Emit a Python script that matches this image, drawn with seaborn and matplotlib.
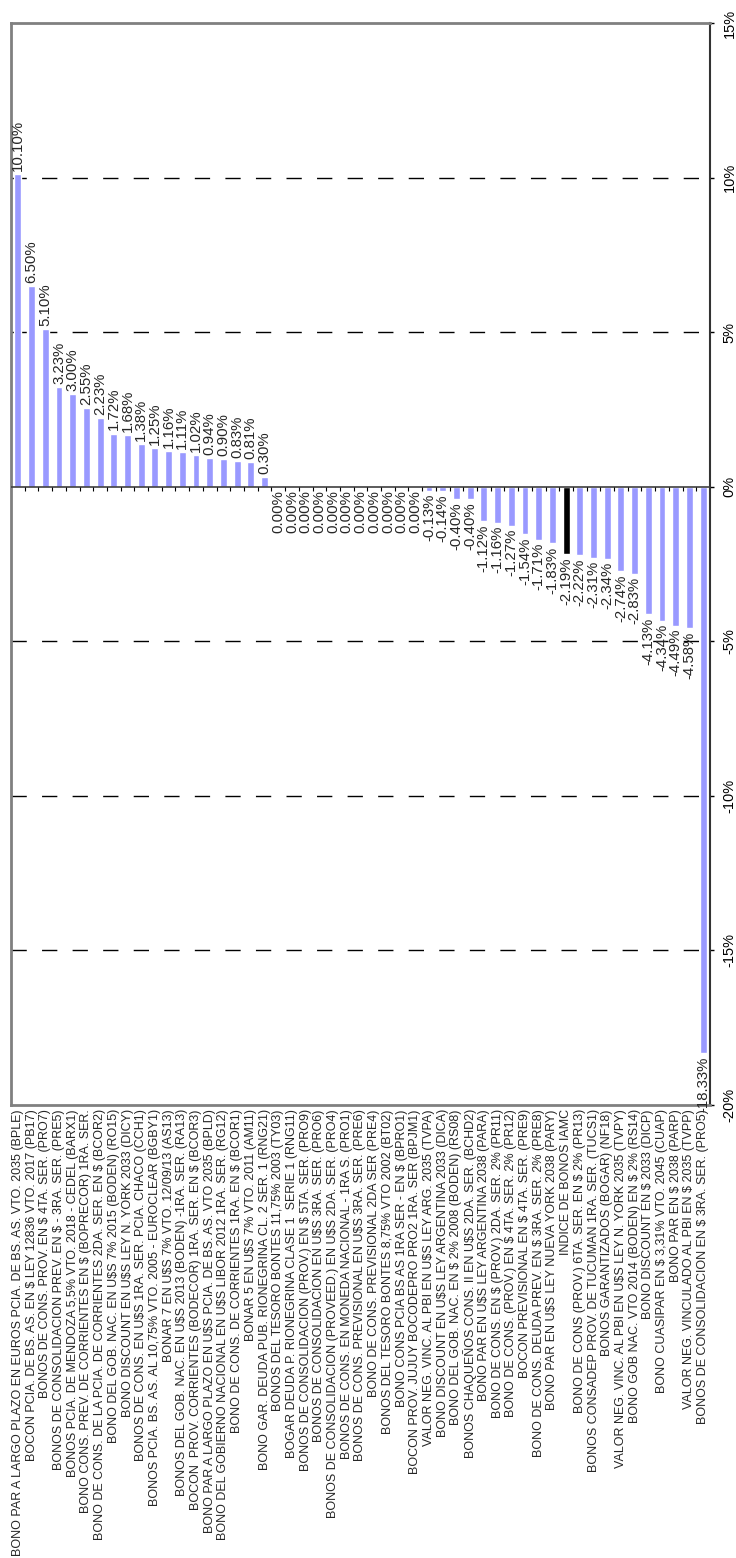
import numpy as np
import pandas as pd
import matplotlib
matplotlib.use("Agg")
import matplotlib.pyplot as plt
import seaborn as sns

# datos
bonos = [
    "BONO PAR A LARGO PLAZO EN EUROS PCIA. DE BS. AS. VTO. 2035 (BPLE)",
    "BOCON PCIA. DE BS. AS. EN $ LEY 12836 VTO. 2017 (PB17)",
    "BONOS DE CONS. PROV. EN $ 4TA. SER. (PRO7)",
    "BONOS DE CONSOLIDACION PREV. EN $ - 3RA. SER. (PRE5)",
    "BONOS PCIA. DE MENDOZA 5,5% VTO. 2018 - CEDEL (BARX1)",
    "BONO CONS. PREV. DE CORRIENTES EN $ (BOPRECOR) 1RA. SER.",
    "BONO DE CONS. DE LA PCIA. DE CORRIENTES 2DA. SER. EN $ (BCOR2)",
    "BONO DEL GOB. NAC. EN U$S 7% 2015 (BODEN) (RO15)",
    "BONO DISCOUNT EN U$S LEY N. YORK 2033 (DICY)",
    "BONOS DE CONS. EN U$S 1RA. SER. PCIA. CHACO (CCH1)",
    "BONOS PCIA. BS. AS. AL 10,75% VTO. 2005 - EUROCLEAR (BGBY1)",
    "BONAR 7 EN U$S 7% VTO. 12/09/13 (AS13)",
    "BONOS DEL GOB. NAC. EN U$S 2013 (BODEN) -1RA. SER. (RA13)",
    "BOCON  PROV. CORRIENTES (BODECOR) 1RA. SER. EN $ (BCOR3)",
    "BONO PAR A LARGO PLAZO EN U$S PCIA. DE BS. AS. VTO 2035 (BPLD)",
    "BONO DEL GOBIERNO NACIONAL EN U$S LIBOR 2012 1RA. SER. (RG12)",
    "BONO DE CONS. DE CORRIENTES 1RA. EN $ (BCOR1)",
    "BONAR 5 EN U$S 7% VTO. 2011 (AM11)",
    "BONO GAR. DEUDA PUB. RIONEGRINA CL. 2 SER. 1 (RNG21)",
    "BONOS DEL TESORO BONTES 11,75% 2003 (TY03)",
    "BOGAR DEUDA P. RIONEGRINA CLASE 1  SERIE 1 (RNG11)",
    "BONOS DE CONSOLIDACION (PROV.) EN $ 5TA. SER. (PRO9)",
    "BONOS DE CONSOLIDACION EN U$S 3RA. SER. (PRO6)",
    "BONOS DE CONSOLIDACION (PROVEED.) EN U$S 2DA. SER. (PRO4)",
    "BONOS DE CONS. EN MONEDA NACIONAL - 1RA S. (PRO1)",
    "BONOS DE CONS. PREVISIONAL EN U$S 3RA. SER. (PRE6)",
    "BONO DE CONS. PREVISIONAL 2DA SER (PRE4)",
    "BONOS DEL TESORO BONTES 8,75% VTO 2002 (BT02)",
    "BONO CONS PCIA BS AS 1RA SER - EN $ (BPRO1)",
    "BOCON PROV. JUJUY BOCODEPRO PRO2 1RA. SER (BPJM1)",
    "VALOR NEG. VINC. AL PBI EN U$S LEY ARG. 2035 (TVPA)",
    "BONO DISCOUNT EN U$S LEY ARGENTINA 2033 (DICA)",
    "BONO DEL GOB. NAC. EN $ 2% 2008 (BODEN) (RS08)",
    "BONOS CHAQUEÑOS CONS. II EN U$S 2DA. SER. (BCHD2)",
    "BONO PAR EN U$S LEY ARGENTINA 2038 (PARA)",
    "BONO DE CONS. EN $ (PROV.) 2DA. SER. 2% (PR11)",
    "BONO DE CONS. (PROV.) EN $ 4TA. SER. 2% (PR12)",
    "BOCON PREVISIONAL EN $ 4TA. SER. (PRE9)",
    "BONO DE CONS. DEUDA PREV. EN $ 3RA. SER. 2% (PRE8)",
    "BONO PAR EN U$S LEY NUEVA YORK 2038 (PARY)",
    "INDICE DE BONOS IAMC",
    "BONO DE CONS (PROV.) 6TA. SER. EN $ 2% (PR13)",
    "BONOS CONSADEP PROV. DE TUCUMAN 1RA. SER. (TUCS1)",
    "BONOS GARANTIZADOS (BOGAR) (NF18)",
    "VALOR NEG. VINC. AL PBI EN U$S LEY N. YORK 2035 (TVPY)",
    "BONO GOB NAC. VTO 2014 (BODEN) EN $ 2% (RS14)",
    "BONO DISCOUNT EN $ 2033 (DICP)",
    "BONO CUASIPAR EN $ 3,31% VTO. 2045 (CUAP)",
    "BONO PAR EN $ 2038 (PARP)",
    "VALOR NEG. VINCULADO AL PBI EN $ 2035 (TVPP)",
    "BONOS DE CONSOLIDACION EN $ 3RA. SER. (PRO5)",
]

variacion = [
    10.10, 6.50, 5.10, 3.23, 3.00, 2.55, 2.23, 1.72, 1.68, 1.38,
    1.25, 1.16, 1.11, 1.02, 0.94, 0.90, 0.83, 0.81, 0.30,
    0.00, 0.00, 0.00, 0.00, 0.00, 0.00, 0.00, 0.00, 0.00, 0.00, 0.00,
    -0.13, -0.14, -0.40, -0.40, -1.12, -1.16, -1.27, -1.54, -1.71, -1.83,
    -2.19, -2.22, -2.31, -2.34, -2.74, -2.83, -4.13, -4.34, -4.49, -4.58,
    -18.33,
]

indice = "INDICE DE BONOS IAMC"
y_ticks = [15, 10, 5, 0, -5, -10, -15, -20]
grid_vals = [10, 5, -5, -10, -15]

df = pd.DataFrame({"bono": bonos, "var": variacion})
colores = {b: ("#000000" if b == indice else "#9999FF") for b in bonos}

sns.set_style("white")
plt.rcParams["font.family"] = ["Liberation Sans", "DejaVu Sans"]

fig = plt.figure(figsize=(7.36, 15.58), dpi=100)
ax = fig.add_axes([11 / 736, 1 - 1105 / 1558, 699 / 736, 1082 / 1558])

sns.barplot(data=df, x="bono", y="var", hue="bono", palette=colores,
            legend=False, width=0.5, saturation=1, ax=ax)

ax.set_ylim(-20, 15)
ax.set_xlim(-0.5, len(bonos) - 0.5)

# lineas punteadas
for g in grid_vals:
    ax.axhline(g, color="black", lw=1, dashes=(11, 11), zorder=0)

# eje en cero con marcas entre categorias
ax.axhline(0, color="#404040", lw=1.2, zorder=3)
limites = np.arange(len(bonos) - 1) + 0.5
ax.plot(limites, np.zeros(len(limites)), linestyle="none", marker=3,
        markersize=3, color="black", markeredgewidth=0.8, zorder=3)

# etiquetas de valor
for i, v in enumerate(variacion):
    if v > 0:
        ax.text(i, v + 0.1, f"{v:.2f}%", rotation=90, ha="center", va="bottom",
                fontsize=10.8)
    else:
        ax.text(i, v - 0.1, f"{v:.2f}%", rotation=90, ha="center", va="top",
                fontsize=10.8, clip_on=False)

# ejes
ax.yaxis.tick_right()
ax.set_yticks(y_ticks)
ax.set_yticklabels([f"{t}%" for t in y_ticks], rotation=90, va="center",
                   fontsize=10.5)
ax.tick_params(axis="y", direction="out", length=3, width=1, pad=6,
               colors="black")
ax.set_xticks(range(len(bonos)))
ax.set_xticklabels(bonos, rotation=90, fontsize=9.0)
ax.tick_params(axis="x", length=0, pad=3)
ax.set_xlabel("")
ax.set_ylabel("")

for s in ["left", "top", "bottom"]:
    ax.spines[s].set_color("#808080")
    ax.spines[s].set_linewidth(2)
ax.spines["right"].set_color("#333333")
ax.spines["right"].set_linewidth(1.5)

fig.savefig("out.png", dpi=100)
